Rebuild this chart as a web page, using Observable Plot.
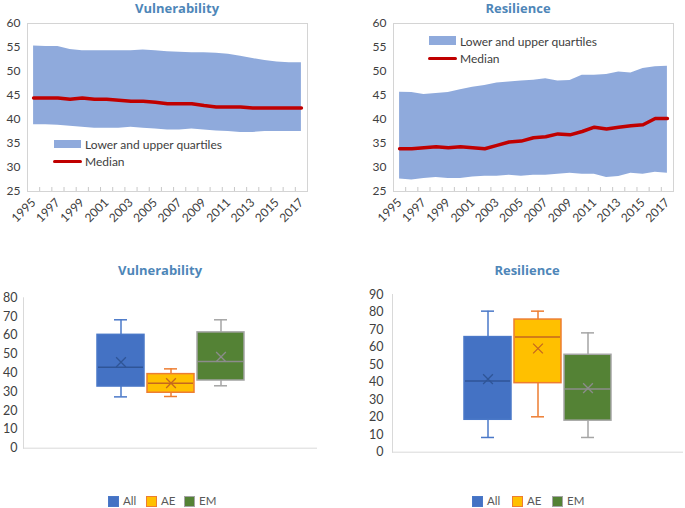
<!DOCTYPE html>
<html>
<head>
<meta charset="utf-8">
<script src="https://cdn.jsdelivr.net/npm/d3@7"></script>
<script src="https://cdn.jsdelivr.net/npm/@observablehq/plot@0.6"></script>
<style>
  html, body { margin: 0; padding: 0; background: #fff; }
  #wrap { position: relative; width: 685px; height: 508px; overflow: hidden; font-family: Lato, "Open Sans", sans-serif; }
  .panel { position: absolute; }
  .title { position: absolute; transform: translateX(-50%); font-family: "Open Sans", sans-serif; font-weight: 700; font-size: 13px; line-height: 16px; color: #4E86B8; white-space: nowrap; }
  .lg { position: absolute; font-size: 12px; line-height: 14px; color: #404040; white-space: nowrap; transform: translateY(-50%); }
  .sw { position: absolute; }
  .blg { position: absolute; font-size: 11.5px; line-height: 14px; color: #595959; white-space: nowrap; transform: translateY(-50%); }
</style>
</head>
<body>
<div id="wrap"></div>
<script>
// ---------- data ----------
const years = [1995,1996,1997,1998,1999,2000,2001,2002,2003,2004,2005,2006,2007,2008,2009,2010,2011,2012,2013,2014,2015,2016,2017];
const yearLabels = [1995,1997,1999,2001,2003,2005,2007,2009,2011,2013,2015,2017];

const vulUpper  = [55.3,55.2,55.2,54.6,54.3,54.3,54.3,54.3,54.3,54.5,54.3,54.1,54.0,53.9,53.9,53.8,53.6,53.2,52.7,52.3,52.0,51.8,51.8];
const vulLower  = [38.9,38.9,38.8,38.6,38.4,38.2,38.2,38.2,38.4,38.2,38.0,37.8,37.8,38.0,37.8,37.6,37.5,37.3,37.3,37.5,37.5,37.5,37.5];
const vulMedian = [44.5,44.5,44.5,44.2,44.5,44.2,44.2,44.0,43.8,43.8,43.6,43.3,43.3,43.3,42.9,42.6,42.6,42.6,42.4,42.4,42.4,42.4,42.4];

const resUpper  = [45.7,45.6,45.2,45.4,45.6,46.2,46.7,47.1,47.6,47.8,48.0,48.2,48.5,48.0,48.1,49.2,49.2,49.4,49.9,49.7,50.6,51.0,51.1];
const resLower  = [27.6,27.4,27.7,27.9,27.7,27.7,28.0,28.2,28.2,28.4,28.2,28.4,28.4,28.6,28.8,28.6,28.6,27.9,28.1,28.8,28.6,29.0,28.8];
const resMedian = [33.9,33.9,34.1,34.3,34.1,34.3,34.1,33.9,34.6,35.3,35.5,36.2,36.4,37.0,36.8,37.5,38.4,38.0,38.4,38.7,38.9,40.2,40.2];

const lineYTicks = [25,30,35,40,45,50,55,60];

const groups = ["All","AE","EM"];
const vulMin    = [27.3,27.5,33.2];
const vulQ1     = [32.8,29.5,36.0];
const vulMed    = [43.1,34.6,46.1];
const vulQ3     = [60.3,39.4,61.6];
const vulMax    = [68.3,42.2,68.3];
const vulMean   = [45.8,34.6,48.6];

const resMin    = [8.4,20.2,8.4];
const resQ1     = [18.5,39.4,18.0];
const resMed    = [40.6,65.7,36.0];
const resQ3     = [65.7,75.7,55.6];
const resMax    = [80.5,80.5,68.1];
const resMean   = [41.7,59.2,36.6];

const vulBoxTicks = [0,10,20,30,40,50,60,70,80];
const resBoxTicks = [0,10,20,30,40,50,60,70,80,90];

// ---------- styles ----------
const AREA = "#8FAADC", MEDIAN = "#C00000";
const boxFill   = {All: "#4472C4", AE: "#FFC000", EM: "#548235"};
const boxStroke = {All: "#4A78C8", AE: "#ED7D31", EM: "#A5A5A5"};
const boxMid    = {All: "#2F5597", AE: "#C5671F", EM: "#8C8C8C"};

const wrap = document.getElementById("wrap");
function place(node, left, top) {
  node.classList.add("panel");
  node.style.left = left + "px";
  node.style.top = top + "px";
  wrap.appendChild(node);
}
function addDiv(cls, text, css) {
  const d = document.createElement("div");
  d.className = cls;
  if (text) d.textContent = text;
  Object.assign(d.style, css);
  wrap.appendChild(d);
  return d;
}

function linePanel(upper, lower, median) {
  const rows = years.map((y, i) => ({year: y, upper: upper[i], lower: lower[i], median: median[i]}));
  const bounds = years.slice(1).map(y => y - 0.5);
  return Plot.plot({
    width: 340, height: 240,
    marginLeft: 27, marginRight: 33, marginTop: 23, marginBottom: 49,
    x: {domain: [years[0] - 0.5, years[years.length - 1] + 0.5], label: null},
    y: {domain: [25, 60], label: null},
    style: {fontFamily: "Lato, 'Open Sans', sans-serif", fontSize: "12px", color: "#404040", background: "transparent"},
    marks: [
      Plot.areaY(rows, {x: "year", y1: "lower", y2: "upper", fill: AREA}),
      Plot.frame({stroke: "#d4d4d4"}),
      Plot.ruleX(bounds, {stroke: "#c8c8c8", insetTop: 164}),
      Plot.lineY(rows, {x: "year", y: "median", stroke: MEDIAN, strokeWidth: 3.5}),
      Plot.axisY({ticks: lineYTicks, tickSize: 0, tickPadding: 7, fontSize: 12, label: null}),
      Plot.axisX({ticks: yearLabels, tickFormat: d => String(d), tickSize: 0, tickRotate: -45, tickPadding: 9, fontSize: 12, label: null})
    ]
  });
}

function boxPanel(mn, q1, med, q3, mx, mean, ticks, m) {
  const rows = groups.map((g, i) => ({g, min: mn[i], q1: q1[i], med: med[i], q3: q3[i], max: mx[i], mean: mean[i]}));
  return Plot.plot({
    width: m.width, height: 210,
    marginLeft: m.left, marginRight: m.right, marginTop: m.top, marginBottom: m.bottom,
    x: {domain: groups, paddingInner: 0.07, paddingOuter: m.outer, axis: null},
    y: {domain: [0, ticks[ticks.length - 1]], label: null},
    style: {fontFamily: "Lato, 'Open Sans', sans-serif", fontSize: "12.5px", color: "#404040", background: "transparent"},
    marks: [
      Plot.frame({anchor: "left", stroke: "#d9d9d9"}),
      Plot.ruleY([0], {stroke: "#d9d9d9"}),
      Plot.ruleX(rows, {x: "g", y1: "q3", y2: "max", stroke: d => boxStroke[d.g], strokeWidth: 1.5}),
      Plot.ruleX(rows, {x: "g", y1: "min", y2: "q1", stroke: d => boxStroke[d.g], strokeWidth: 1.5}),
      Plot.tickY(rows, {x: "g", y: "max", stroke: d => boxStroke[d.g], strokeWidth: 1.5, inset: 17}),
      Plot.tickY(rows, {x: "g", y: "min", stroke: d => boxStroke[d.g], strokeWidth: 1.5, inset: 17}),
      Plot.barY(rows, {x: "g", y1: "q1", y2: "q3", fill: d => boxFill[d.g], stroke: d => boxStroke[d.g], strokeWidth: 1.5}),
      Plot.tickY(rows, {x: "g", y: "med", stroke: d => boxMid[d.g], strokeWidth: 1.5, inset: 1}),
      Plot.dot(rows, {x: "g", y: "mean", symbol: "times", r: 4.5, stroke: d => boxMid[d.g], strokeWidth: 1.3}),
      Plot.axisY({ticks, tickSize: 0, tickPadding: m.pad, fontSize: 12.5, label: null})
    ]
  });
}

// ---------- top panels ----------
place(linePanel(vulUpper, vulLower, vulMedian), 0, 0);
place(linePanel(resUpper, resLower, resMedian), 366, 0);

addDiv("title", "Vulnerability", {left: "177px", top: "0px"});
addDiv("title", "Resilience", {left: "518px", top: "0px"});

// top legends
addDiv("sw", "", {left: "54px", top: "140px", width: "27px", height: "8px", background: AREA});
addDiv("lg", "Lower and upper quartiles", {left: "85px", top: "145px"});
addDiv("sw", "", {left: "53px", top: "159.5px", width: "29px", height: "3.5px", background: MEDIAN, borderRadius: "2px"});
addDiv("lg", "Median", {left: "85px", top: "162px"});

addDiv("sw", "", {left: "429px", top: "36px", width: "27px", height: "9px", background: AREA});
addDiv("lg", "Lower and upper quartiles", {left: "460px", top: "42px"});
addDiv("sw", "", {left: "428px", top: "56.5px", width: "29px", height: "3.5px", background: MEDIAN, borderRadius: "2px"});
addDiv("lg", "Median", {left: "460px", top: "59px"});

// ---------- bottom panels ----------
place(boxPanel(vulMin, vulQ1, vulMed, vulQ3, vulMax, vulMean, vulBoxTicks,
  {width: 340, left: 23, right: 23, top: 42.3, bottom: 17.3, outer: 1.47, pad: 6}), 0, 255);
place(boxPanel(resMin, resQ1, resMed, resQ3, resMax, resMean, resBoxTicks,
  {width: 345, left: 52, right: 2, top: 39, bottom: 13.3, outer: 1.44, pad: 9}), 340, 255);

addDiv("title", "Vulnerability", {left: "160px", top: "262px"});
addDiv("title", "Resilience", {left: "527px", top: "262px"});

// bottom legends
function boxLegend(x0, offsets) {
  groups.forEach((g, i) => {
    addDiv("sw", "", {left: (x0 + offsets[i]) + "px", top: "496px", width: "9px", height: "9px",
      background: boxFill[g], border: "1px solid " + boxStroke[g]});
    addDiv("blg", g, {left: (x0 + offsets[i] + 15) + "px", top: "501px"});
  });
}
boxLegend(108, [0, 38, 76]);
boxLegend(472, [0, 40, 80]);
</script>
</body>
</html>
